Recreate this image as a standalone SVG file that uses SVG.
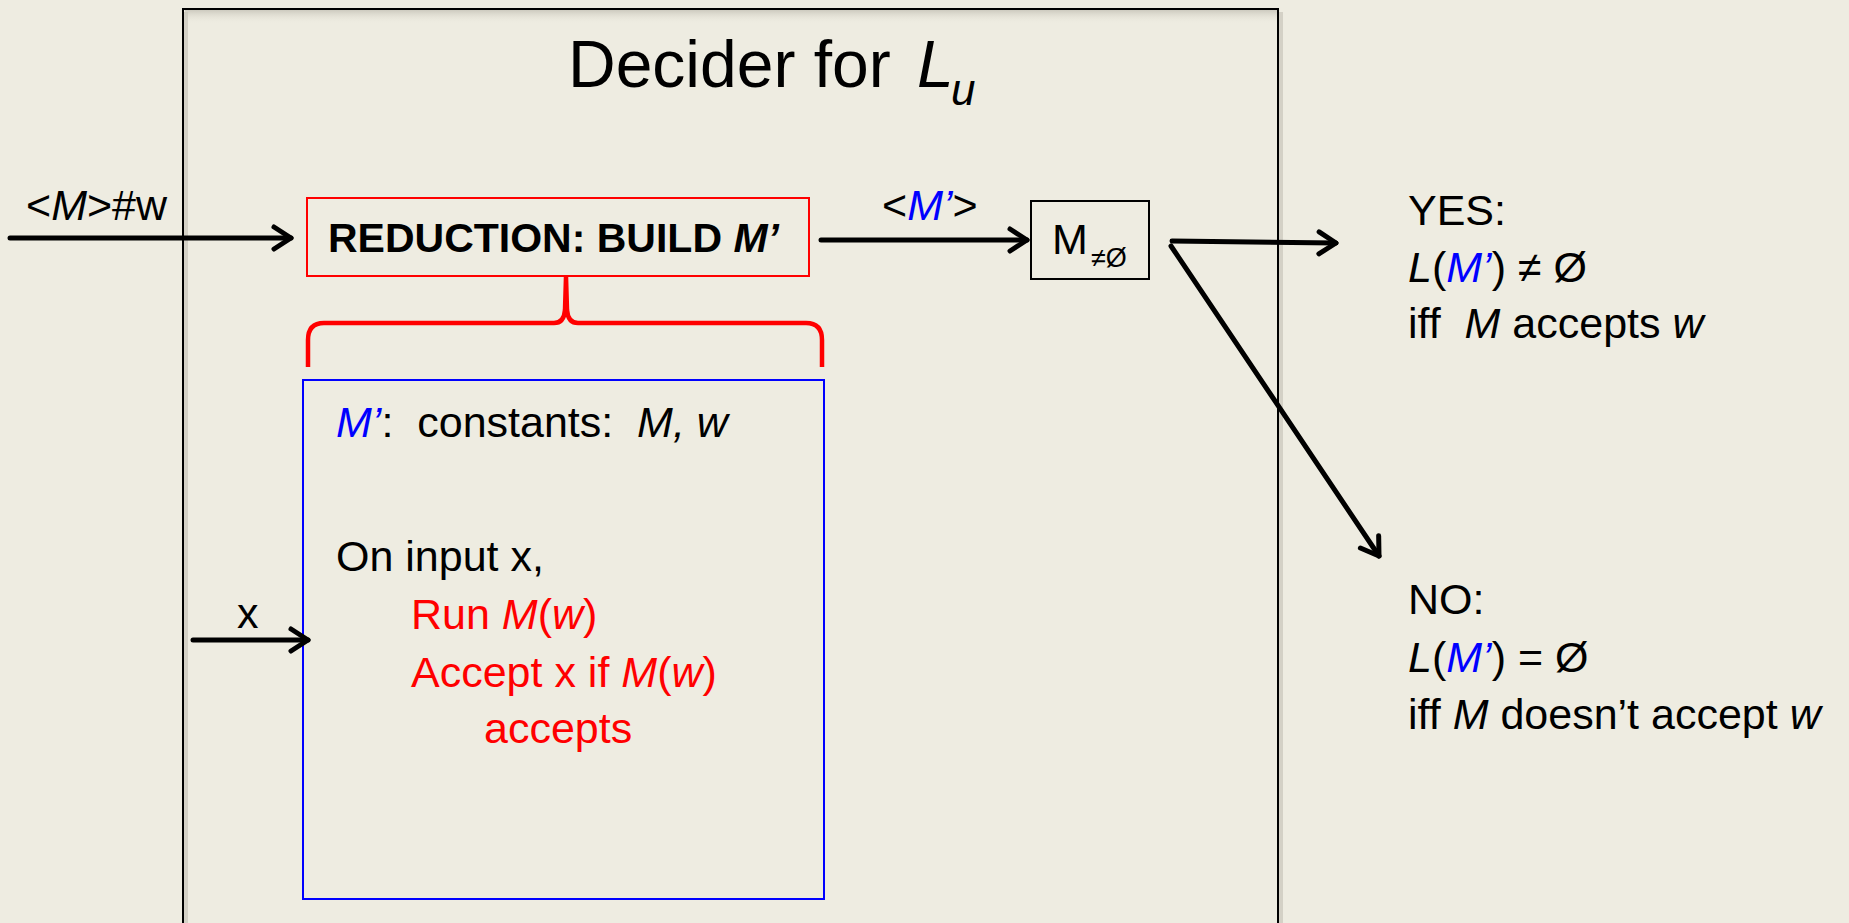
<svg xmlns="http://www.w3.org/2000/svg" width="1849" height="923" viewBox="0 0 1849 923">
  <defs>
    <style>
      text { font-family: "Liberation Sans", Arial, sans-serif; fill: #000; white-space: pre; }
      .body { font-size: 43px; }
      .title { font-size: 66px; }
      .bold { font-weight: bold; font-size: 41px; }
      .it { font-style: italic; }
      .red { fill: #FF0000; }
      .blue { fill: #0000FF; }
      .arrow { stroke: #000; stroke-width: 5; fill: none; stroke-linecap: round; marker-end: url(#head); }
      .shadow { stroke: #C9C6BB; stroke-width: 4; fill: none; opacity: 0.7; }
    </style>
    <marker id="head" markerUnits="userSpaceOnUse" markerWidth="40" markerHeight="40" viewBox="-24 -20 30 40" refX="0" refY="0" orient="auto">
      <path d="M-17,-11 L0,0 L-17,11" fill="none" stroke="#000" stroke-width="5" stroke-linecap="round" stroke-linejoin="round"/>
    </marker>
    <linearGradient id="topShade" x1="0" y1="0" x2="0" y2="1">
      <stop offset="0" stop-color="#C9C6BB" stop-opacity="0.9"/>
      <stop offset="1" stop-color="#EEECE1" stop-opacity="0"/>
    </linearGradient>
  </defs>

  <rect x="0" y="0" width="1849" height="923" fill="#EEECE1"/>

  <!-- outer decider frame -->
  <g id="decider">
    <rect x="185" y="10" width="1092" height="14" fill="url(#topShade)"/>
    <line class="shadow" x1="186" y1="12" x2="186" y2="923"/>
    <line class="shadow" x1="1281" y1="12" x2="1281" y2="923"/>
    <path d="M183,923 L183,9 L1278,9 L1278,923" fill="none" stroke="#000" stroke-width="2"/>
    <text class="title" x="568" y="87">Decider for</text>
    <text class="title it" x="917" y="87">L</text>
    <text class="it" x="951" y="105" font-size="44">u</text>
  </g>

  <!-- reduction box -->
  <g id="reduction">
    <rect x="307" y="198" width="502" height="78" fill="none" stroke="#FF0000" stroke-width="2"/>
    <text class="bold" x="328" y="252">REDUCTION: BUILD <tspan class="it">M’</tspan></text>
  </g>

  <!-- brace below the reduction box -->
  <g id="brace">
    <path d="M308,367 L308,340 Q308,323 324,323 L554,323 Q564,323 565,310 L566,277 L567,310 Q568,323 578,323 L806,323 Q822,323 822,340 L822,367" fill="none" stroke="#FF0000" stroke-width="4.5"/>
  </g>

  <!-- the machine M' -->
  <g id="mprime">
    <rect x="303" y="380" width="521" height="519" fill="none" stroke="#0000FF" stroke-width="2"/>
    <text class="body" x="336" y="437"><tspan class="it blue">M’</tspan>:  constants:  <tspan class="it">M, w</tspan></text>
    <text class="body" x="336" y="571">On input x,</text>
    <text class="body red" x="411" y="629">Run <tspan class="it">M</tspan>(<tspan class="it">w</tspan>)</text>
    <text class="body red" x="411" y="687">Accept x if <tspan class="it">M</tspan>(<tspan class="it">w</tspan>)</text>
    <text class="body red" x="484" y="743">accepts</text>
  </g>

  <!-- emptiness decider -->
  <g id="nonempty">
    <rect x="1031" y="201" width="118" height="78" fill="none" stroke="#000" stroke-width="2"/>
    <text class="body" x="1052" y="254">M</text>
    <text x="1091" y="267" font-size="27">≠Ø</text>
  </g>

  <!-- outcomes -->
  <g id="yes">
    <text class="body" x="1408" y="225">YES:</text>
    <text class="body" x="1408" y="282"><tspan class="it">L</tspan>(<tspan class="it blue">M’</tspan>) ≠ Ø</text>
    <text class="body" x="1408" y="338">iff  <tspan class="it">M</tspan> accepts <tspan class="it">w</tspan></text>
  </g>
  <g id="no">
    <text class="body" x="1408" y="614">NO:</text>
    <text class="body" x="1408" y="672"><tspan class="it">L</tspan>(<tspan class="it blue">M’</tspan>) = Ø</text>
    <text class="body" x="1408" y="729">iff <tspan class="it">M</tspan> doesn’t accept <tspan class="it">w</tspan></text>
  </g>

  <!-- connectors -->
  <g id="connectors">
    <line class="arrow" x1="10" y1="238" x2="291" y2="238"/>
    <text class="body" x="26" y="220">&lt;<tspan class="it">M</tspan>&gt;#w</text>
    <line class="arrow" x1="821" y1="240" x2="1027" y2="240"/>
    <text class="body" x="882" y="220">&lt;<tspan class="it blue">M’</tspan>&gt;</text>
    <line class="arrow" x1="1172" y1="241" x2="1336" y2="243"/>
    <line class="arrow" x1="1171" y1="246" x2="1379" y2="556"/>
    <line class="arrow" x1="193" y1="640" x2="308" y2="640"/>
    <text class="body" x="237" y="628">x</text>
  </g>
</svg>
